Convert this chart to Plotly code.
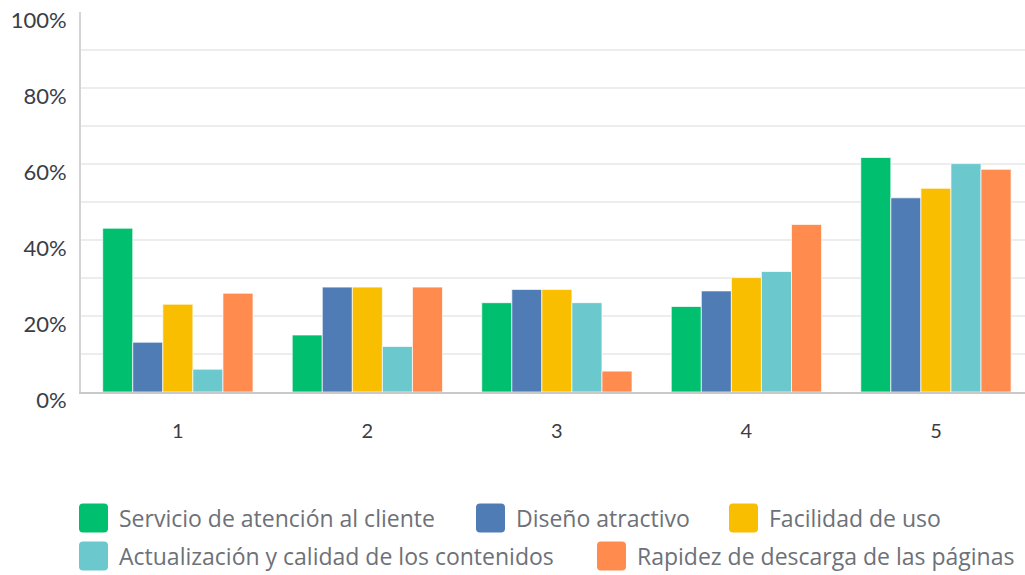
import plotly.graph_objects as go

# Ratings 1-5 on the x axis, share of respondents (%) per attribute
categories = ["1", "2", "3", "4", "5"]

servicio = [43.1, 15.0, 23.5, 22.5, 61.7]
diseno = [13.1, 27.6, 27.0, 26.6, 51.1]
facilidad = [23.1, 27.6, 27.0, 30.1, 53.6]
actualizacion = [6.0, 12.0, 23.5, 31.7, 60.1]
rapidez = [26.0, 27.6, 5.5, 44.1, 58.6]

series_names = [
    "Servicio de atención al cliente",
    "Diseño atractivo",
    "Facilidad de uso",
    "Actualización y calidad de los contenidos",
    "Rapidez de descarga de las páginas",
]
series_values = [servicio, diseno, facilidad, actualizacion, rapidez]
colors = ["#00BF6F", "#507CB6", "#F9BE00", "#6BC8CD", "#FF8B4F"]

y_ticks = [0, 20, 40, 60, 80, 100]
y_tick_text = ["0%", "20%", "40%", "60%", "80%", "100%"]
grid_levels = [10, 20, 30, 40, 50, 60, 70, 80, 90]

W, H = 1025, 575
ML, MT, MB, MR = 81, 12, 183, 0
PW, PH = W - ML - MR, H - MT - MB

fig = go.Figure()
for name, vals, col in zip(series_names, series_values, colors):
    fig.add_trace(go.Bar(
        x=list(range(len(categories))), y=vals, name=name,
        marker=dict(color=col, line=dict(color="rgba(255,255,255,0.7)", width=1)),
        showlegend=False,
    ))


def px_x(p):
    return (p - ML) / PW


def px_y(p):
    return (H - MB - p) / PH


# Custom legend: large rounded swatches with labels, two rows
legend_slots = [(79, 518), (476, 518), (729, 518), (79, 556), (597, 556)]
shapes = []
annotations = []
side, r = 29, 4
for (lx, cy), name, col in zip(legend_slots, series_names, colors):
    x0, x1 = lx, lx + side
    y0, y1 = cy - side / 2, cy + side / 2
    path = (
        f"M {px_x(x0 + r)},{px_y(y0)} L {px_x(x1 - r)},{px_y(y0)} "
        f"Q {px_x(x1)},{px_y(y0)} {px_x(x1)},{px_y(y0 + r)} "
        f"L {px_x(x1)},{px_y(y1 - r)} Q {px_x(x1)},{px_y(y1)} {px_x(x1 - r)},{px_y(y1)} "
        f"L {px_x(x0 + r)},{px_y(y1)} Q {px_x(x0)},{px_y(y1)} {px_x(x0)},{px_y(y1 - r)} "
        f"L {px_x(x0)},{px_y(y0 + r)} Q {px_x(x0)},{px_y(y0)} {px_x(x0 + r)},{px_y(y0)} Z"
    )
    shapes.append(dict(type="path", path=path, xref="paper", yref="paper",
                       fillcolor=col, line=dict(width=0)))
    annotations.append(dict(
        x=px_x(lx + 38), y=px_y(cy), xref="paper", yref="paper",
        xanchor="left", yanchor="middle", showarrow=False, text=name,
        font=dict(family="Open Sans", size=23, color="#6d7178"),
    ))

fig.update_layout(
    width=W, height=H,
    margin=dict(l=ML, r=MR, t=MT, b=MB, pad=0),
    paper_bgcolor="white", plot_bgcolor="white",
    barmode="group", bargap=0.207, bargroupgap=0.0,
    shapes=shapes, annotations=annotations,
    xaxis=dict(
        range=[-0.511, 4.47], tickmode="array",
        tickvals=list(range(len(categories))), ticktext=categories,
        showgrid=False, zeroline=False,
        showline=True, linecolor="#c9c9c9", linewidth=2,
        ticks="", ticklabelstandoff=20,
        tickfont=dict(family="Lato", size=20, color="#3c3c46"),
    ),
    yaxis=dict(
        range=[0, 100], tickmode="array", tickvals=y_ticks, ticktext=y_tick_text,
        showgrid=False, zeroline=False,
        showline=True, linecolor="#d4d4d4", linewidth=2,
        ticks="", ticklabelstandoff=8, ticklabelshift=8,
        tickfont=dict(family="Lato", size=22, color="#3c3c46"),
        minor=dict(tickmode="array", tickvals=grid_levels, showgrid=True,
                   gridcolor="#ededed", gridwidth=2, ticks=""),
    ),
    showlegend=False,
)

fig.write_html("out.html")
